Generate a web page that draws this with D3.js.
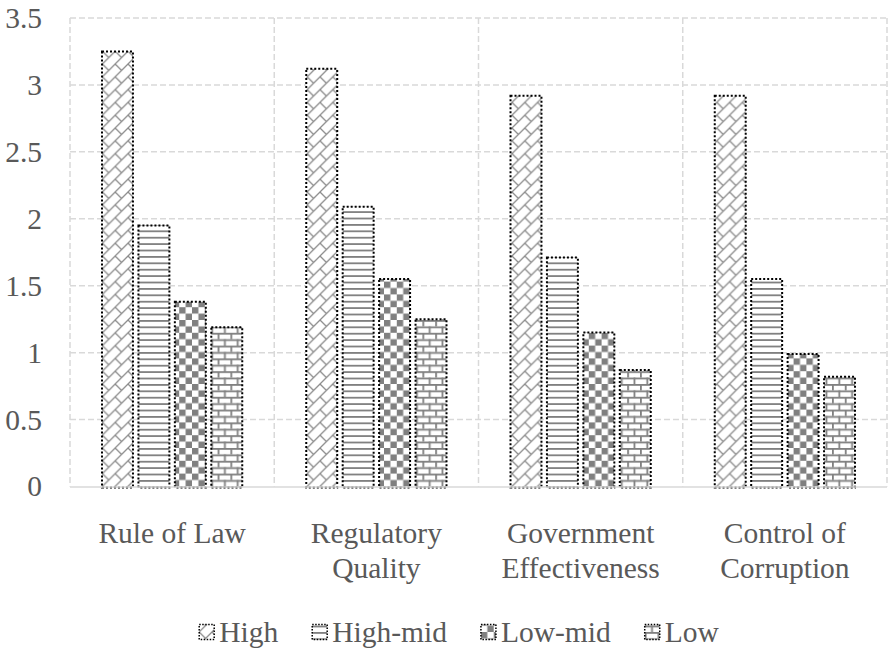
<!DOCTYPE html>
<html>
<head>
<meta charset="utf-8">
<script src="https://cdn.jsdelivr.net/npm/d3@7"></script>
<style>
  html, body { margin: 0; padding: 0; background: #fff; }
  svg { display: block; }
</style>
</head>
<body>
<svg id="chart" width="890" height="649"></svg>
<script>
// ---- Data ----
const categories = ["Rule of Law", "Regulatory Quality", "Government Effectiveness", "Control of Corruption"];
const seriesNames = ["High", "High-mid", "Low-mid", "Low"];
const high    = [3.25, 3.12, 2.92, 2.92];
const highMid = [1.95, 2.09, 1.71, 1.55];
const lowMid  = [1.38, 1.55, 1.15, 0.99];
const low     = [1.19, 1.25, 0.87, 0.82];
const yTicks  = [0, 0.5, 1, 1.5, 2, 2.5, 3, 3.5];

const seriesValues = [high, highMid, lowMid, low];

// ---- Layout ----
const FONT = "'Liberation Serif', 'Times New Roman', serif";
const plot = { left: 70, right: 887, top: 18, bottom: 486.5 };
const fontSize = 29.5;
const textColor = "#595959";
const grey = "#808080";
const svg = d3.select("#chart");
const defs = svg.append("defs");

// ---- Patterns ----
const s = 12.8;
function pattern(id, w, h, draw) {
  const p = defs.append("pattern").attr("id", id)
    .attr("patternUnits", "userSpaceOnUse").attr("width", w).attr("height", h);
  p.append("rect").attr("width", w).attr("height", h).attr("fill", "#fff");
  draw(p);
}
// diagonal brick
pattern("p0", s, s, p => {
  p.append("path")
    .attr("d", `M0,${s} L${s},0 M${-s/2},${s/2} L${s/2},${-s/2} M${s/2},${s*1.5} L${s*1.5},${s/2} M0,0 L${s/2},${s/2}`)
    .attr("stroke", "#8c8c8c").attr("stroke-width", 1.3).attr("fill", "none");
});
// horizontal lines
pattern("p1", 8, 6.4, p => {
  p.append("rect").attr("x", 0).attr("y", 0).attr("width", 8).attr("height", 1.8).attr("fill", grey);
});
// large checkerboard
pattern("p2", s, s, p => {
  p.append("rect").attr("x", 0).attr("y", 0).attr("width", s/2).attr("height", s/2).attr("fill", grey);
  p.append("rect").attr("x", s/2).attr("y", s/2).attr("width", s/2).attr("height", s/2).attr("fill", grey);
});
// horizontal brick
pattern("p3", s, s, p => {
  const t = 1.8;
  p.append("rect").attr("x", 0).attr("y", 0).attr("width", s).attr("height", t).attr("fill", grey);
  p.append("rect").attr("x", 0).attr("y", s/2).attr("width", s).attr("height", t).attr("fill", grey);
  p.append("rect").attr("x", 0).attr("y", 0).attr("width", t).attr("height", s/2).attr("fill", grey);
  p.append("rect").attr("x", s/2).attr("y", s/2).attr("width", t).attr("height", s/2).attr("fill", grey);
});

// ---- Scales ----
const x0 = d3.scaleBand().domain(categories).range([plot.left, plot.right]).paddingInner(0).paddingOuter(0);
const innerPad = 32;
const x1 = d3.scaleBand().domain(seriesNames)
  .range([innerPad, x0.bandwidth() - innerPad]).paddingInner(0.15).paddingOuter(0);
const y = d3.scaleLinear().domain([0, 3.5]).range([plot.bottom, plot.top]);

// ---- Gridlines ----
const grid = svg.append("g");
grid.selectAll("line.h").data(yTicks.filter(d => d > 0)).join("line")
  .attr("x1", plot.left).attr("x2", plot.right)
  .attr("y1", d => y(d)).attr("y2", d => y(d))
  .attr("stroke", "#d9d9d9").attr("stroke-width", 1.5).attr("stroke-dasharray", "6,3");
const vx = categories.map(c => x0(c)).concat([plot.right]);
grid.selectAll("line.v").data(vx).join("line")
  .attr("x1", d => d).attr("x2", d => d)
  .attr("y1", plot.top).attr("y2", plot.bottom)
  .attr("stroke", "#d9d9d9").attr("stroke-width", 1.5).attr("stroke-dasharray", "6,3");

// ---- Bars ----
const rows = [];
categories.forEach((c, i) => seriesNames.forEach((sn, j) => rows.push({ c, sn, j, v: seriesValues[j][i] })));
svg.append("g").selectAll("rect").data(rows).join("rect")
  .attr("x", d => x0(d.c) + x1(d.sn))
  .attr("y", d => y(d.v))
  .attr("width", x1.bandwidth())
  .attr("height", d => y(0) - y(d.v) + 1)
  .attr("fill", d => `url(#p${d.j})`)
  .attr("stroke", "#000").attr("stroke-width", 2).attr("stroke-dasharray", "2,2");

// ---- X axis line ----
svg.append("line")
  .attr("x1", plot.left).attr("x2", plot.right)
  .attr("y1", y(0) + 0.5).attr("y2", y(0) + 0.5)
  .attr("stroke", "#d9d9d9").attr("stroke-width", 1.5);

// ---- Y tick labels ----
const yAxis = d3.axisLeft(y).tickValues(yTicks).tickSize(0).tickPadding(28).tickFormat(d3.format("~g"));
const ya = svg.append("g").attr("transform", `translate(${plot.left},0)`).call(yAxis);
ya.attr("font-family", null).attr("font-size", null);
ya.select(".domain").remove();
ya.selectAll("text").style("font-family", FONT).style("font-size", fontSize + "px").attr("fill", textColor);

// ---- X category labels (wrapped) ----
function styleText(sel) {
  return sel.style("font-family", FONT).style("font-size", fontSize + "px").attr("fill", textColor);
}
function wrapWords(text, maxW) {
  const words = text.split(" ");
  const tmp = styleText(svg.append("text"));
  const lines = [];
  let cur = "";
  words.forEach(w => {
    const t = cur ? cur + " " + w : w;
    tmp.text(t);
    if (tmp.node().getComputedTextLength() > maxW && cur) { lines.push(cur); cur = w; }
    else cur = t;
  });
  if (cur) lines.push(cur);
  tmp.remove();
  return lines;
}
const xl = svg.append("g");
categories.forEach(c => {
  const lines = wrapWords(c, 185);
  const cx = x0(c) + x0.bandwidth() / 2;
  const t = styleText(xl.append("text")).attr("text-anchor", "middle").attr("x", cx).attr("y", 543);
  lines.forEach((ln, k) => t.append("tspan").attr("x", cx).attr("dy", k === 0 ? 0 : 35).text(ln));
});

// ---- Legend ----
const leg = svg.append("g");
const sw = 15, gapSwText = 5, gapItems = 34;
const items = [];
seriesNames.forEach((sn, j) => {
  const g = leg.append("g");
  g.append("rect").attr("x", 0).attr("y", -sw / 2).attr("width", sw).attr("height", sw)
    .attr("fill", `url(#p${j})`).attr("stroke", "#000").attr("stroke-width", 1.5).attr("stroke-dasharray", "1.5,1.5");
  const t = styleText(g.append("text")).attr("x", sw + gapSwText).attr("y", 10).text(sn);
  const w = sw + gapSwText + t.node().getComputedTextLength();
  items.push({ g, w });
});
const total = d3.sum(items, d => d.w) + gapItems * (items.length - 1);
let lx = 459 - total / 2;
items.forEach(it => { it.g.attr("transform", `translate(${lx},632)`); lx += it.w + gapItems; });
</script>
</body>
</html>
